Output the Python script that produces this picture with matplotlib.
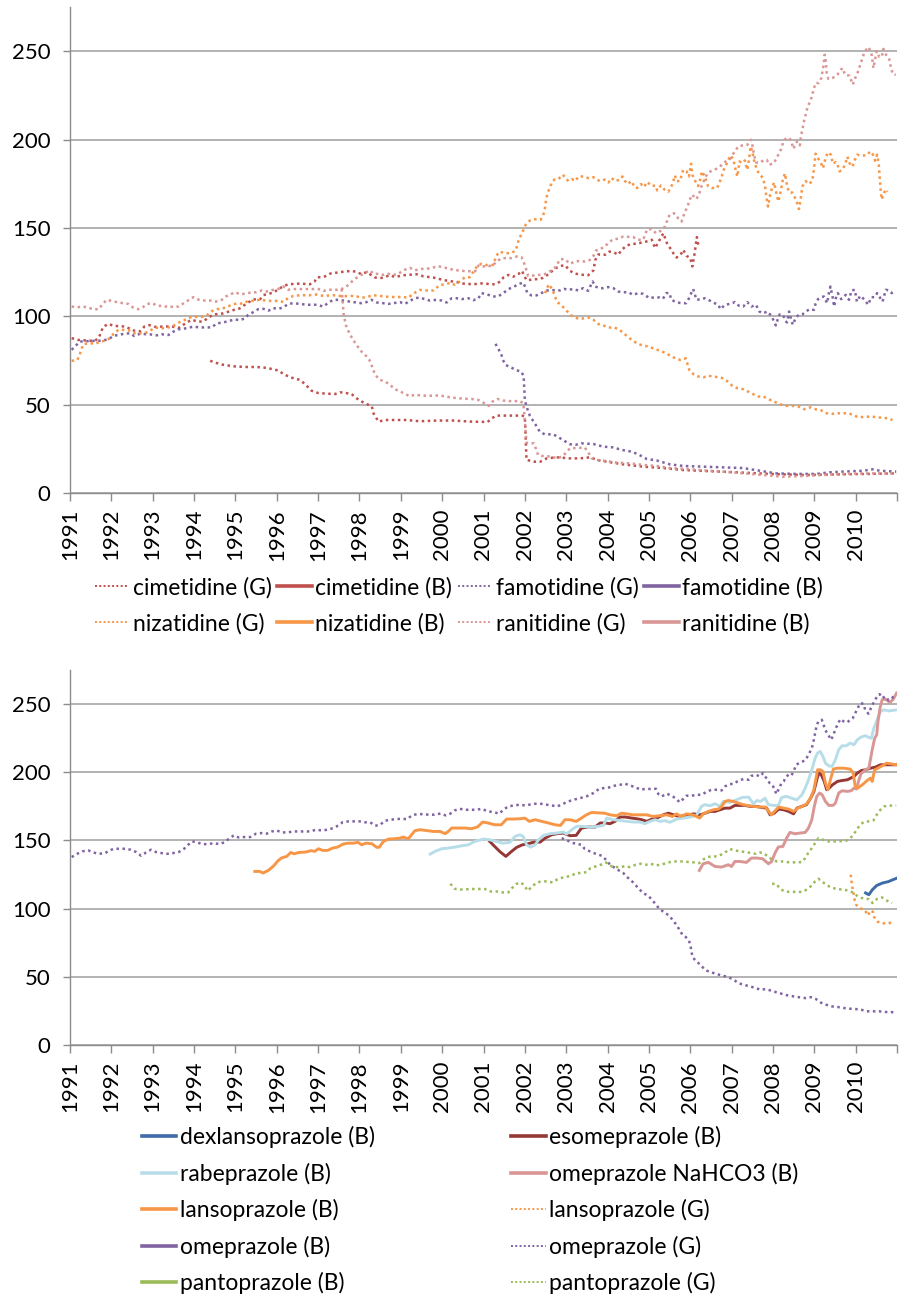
import numpy as np
import matplotlib
matplotlib.use("Agg")
import matplotlib.pyplot as plt
from matplotlib.lines import Line2D

plt.rcParams['font.family'] = ['Lato', 'DejaVu Sans']

years = list(range(1991, 2011))
y_ticks = [0, 50, 100, 150, 200, 250]

# ---- H2 blockers (top panel): (decimal year, index value) ----
cim_g = [(1994.39, 74.8), (1994.51, 73.8), (1994.67, 72.7), (1994.95, 71.7), (1995.23, 71.3), (1995.51, 71.3),
         (1995.76, 70.8), (1996.04, 69.3), (1996.16, 67.4), (1996.32, 65.5), (1996.56, 64), (1996.68, 61.7),
         (1996.84, 57.9), (1997.01, 56.5), (1997.3, 56.1), (1997.41, 56), (1997.53, 57), (1997.69, 56.5),
         (1997.81, 56), (1997.93, 53.6), (1998.05, 51.8), (1998.17, 50.4), (1998.3, 49), (1998.34, 45.1),
         (1998.46, 40.4), (1998.62, 41.3), (1998.82, 41.3), (1999.14, 41.3), (1999.46, 40.6), (1999.87, 41),
         (2000.27, 41), (2000.67, 40.4), (2001.1, 40.2), (2001.2, 42.3), (2001.32, 43.8), (2001.93, 43.8),
         (2002.0, 43.2), (2002.04, 18.7), (2002.24, 17.7), (2002.37, 17.7), (2002.53, 19.6), (2002.77, 20.2),
         (2003.09, 19.6), (2003.33, 19.6), (2003.58, 20.2), (2003.74, 18.7), (2004.06, 17.4), (2004.38, 16.2),
         (2004.86, 14.9), (2005.35, 14.1), (2005.83, 13), (2006.31, 12.5), (2007.12, 11.7), (2007.92, 10.8),
         (2008.73, 10.2), (2009.54, 10.5), (2010.34, 10.8), (2010.98, 11.1)]

cim_b = [(1991.04, 87.6), (1991.2, 86.6), (1991.6, 86), (1991.7, 88), (1991.8, 94), (1991.93, 95.7),
         (1992.05, 94.6), (1992.33, 94.2), (1992.57, 91.7), (1992.69, 91.4), (1992.8, 94.2), (1992.92, 95),
         (1993.06, 94), (1993.46, 94.3), (1993.62, 93.3), (1993.82, 96.4), (1993.94, 98), (1994.1, 97),
         (1994.22, 97), (1994.35, 99.3), (1994.47, 101), (1994.7, 101.6), (1994.99, 103.8), (1995.1, 104.4),
         (1995.31, 107.8), (1995.43, 109.5), (1995.6, 109.7), (1995.68, 112), (1995.92, 113.4), (1996.04, 115.3),
         (1996.16, 117), (1996.28, 118.1), (1996.56, 118.5), (1996.8, 118.1), (1996.92, 119.8), (1996.97, 121.9),
         (1997.17, 122.6), (1997.3, 124.2), (1997.57, 125.1), (1997.81, 125.7), (1997.93, 125.1), (1998.05, 123.8),
         (1998.17, 125), (1998.38, 121.9), (1998.54, 121.7), (1998.74, 123.2), (1998.86, 122.2), (1999.06, 123.2),
         (1999.38, 123.8), (1999.55, 122.6), (1999.79, 121.9), (2000.0, 120.7), (2000.15, 120), (2000.35, 119.4),
         (2000.51, 118.5), (2000.75, 118.1), (2001.0, 118.7), (2001.16, 118.1), (2001.28, 118.1), (2001.4, 119.6),
         (2001.48, 121.9), (2001.6, 123.4), (2001.72, 122.4), (2001.84, 123.8), (2001.93, 125.7), (2002.04, 120.4),
         (2002.28, 121), (2002.44, 121.7), (2002.57, 123.8), (2002.73, 127), (2002.85, 128.4), (2002.97, 128.9),
         (2003.09, 125.7), (2003.21, 124.2), (2003.33, 123.6), (2003.53, 123.2), (2003.66, 126), (2003.7, 131.7),
         (2003.78, 135), (2003.94, 134.8), (2004.04, 136.6), (2004.14, 136.3), (2004.26, 134.8), (2004.34, 137.6),
         (2004.46, 139.9), (2004.58, 141), (2004.7, 141), (2004.82, 141.7), (2004.94, 142.3), (2005.07, 143.3),
         (2005.15, 138.6), (2005.27, 143.7), (2005.35, 147), (2005.43, 141.7), (2005.59, 135.7), (2005.67, 133.2),
         (2005.79, 135.7), (2005.83, 137.6), (2005.91, 134.2), (2006.0, 133), (2006.05, 128.2), (2006.1, 134.8),
         (2006.16, 144.8), (2006.2, 139.5)]

fam_g = [(2001.29, 84.4), (2001.36, 81.5), (2001.43, 78.5), (2001.47, 75.3), (2001.53, 72.5), (2001.67, 71),
         (2001.79, 69.5), (2001.91, 68.7), (2001.97, 66.3), (2002.0, 52.7), (2002.04, 48.9), (2002.12, 43.8),
         (2002.2, 40.8), (2002.28, 37.9), (2002.36, 34.7), (2002.48, 33.2), (2002.69, 33.2), (2002.85, 31),
         (2002.97, 29.3), (2003.09, 27.6), (2003.23, 27.3), (2003.37, 28.1), (2003.66, 27.7), (2003.9, 26.2),
         (2004.14, 25.8), (2004.34, 24.4), (2004.58, 23.4), (2004.74, 21.9), (2004.94, 19.3), (2005.19, 18.4),
         (2005.51, 16.2), (2005.83, 15.3), (2006.31, 14.9), (2006.8, 14.5), (2007.28, 14.1), (2007.68, 12.6),
         (2008.08, 11.1), (2008.56, 10.8), (2009.05, 10.8), (2009.37, 11.7), (2009.69, 12.1), (2010.18, 12.6),
         (2010.42, 13.4), (2010.58, 12.6), (2010.98, 12.1)]

fam_b = [(1991.04, 81), (1991.14, 83.4), (1991.24, 85.7), (1991.5, 86), (1991.77, 86.2), (1991.93, 87),
         (1992.05, 88.9), (1992.29, 90), (1992.45, 90.4), (1992.55, 88.9), (1992.69, 90), (1992.93, 89.8),
         (1993.09, 89.2), (1993.22, 89.8), (1993.38, 89.4), (1993.5, 91.3), (1993.62, 92.6), (1993.78, 93.1),
         (1993.98, 94.1), (1994.14, 93.7), (1994.43, 93.7), (1994.55, 96), (1994.71, 96.5), (1994.83, 97.3),
         (1994.99, 98.2), (1995.11, 97.8), (1995.23, 98.8), (1995.31, 100.8), (1995.43, 102.3), (1995.55, 104),
         (1995.68, 104.2), (1995.8, 103.2), (1995.92, 104.6), (1996.04, 104.2), (1996.16, 105.1), (1996.28, 107),
         (1996.4, 107.4), (1996.56, 107), (1996.72, 106.5), (1996.97, 106.5), (1997.13, 105.5), (1997.25, 107.8),
         (1997.37, 109.3), (1997.49, 109.3), (1997.65, 108.7), (1997.77, 108.3), (1997.93, 107.8), (1998.05, 107.4),
         (1998.17, 108), (1998.29, 109.3), (1998.42, 107.8), (1998.58, 107.4), (1998.7, 107), (1998.82, 107.4),
         (1998.98, 108), (1999.1, 107), (1999.22, 108.7), (1999.34, 110.2), (1999.46, 110.6), (1999.58, 109.7),
         (1999.7, 108.9), (1999.87, 109.3), (1999.99, 108.9), (2000.11, 107.8), (2000.23, 110.2), (2000.35, 110.2),
         (2000.47, 109.7), (2000.63, 110.2), (2000.75, 109.1), (2000.87, 109.9), (2000.95, 113.1), (2001.07, 112.5),
         (2001.23, 111.2), (2001.35, 111.2), (2001.48, 113.1), (2001.6, 115.4), (2001.72, 116.5), (2001.84, 118.1),
         (2001.96, 119.1), (2002.02, 115.9), (2002.06, 113.1), (2002.16, 111.8), (2002.28, 111.8), (2002.4, 113.1),
         (2002.53, 114.6), (2002.65, 114.6), (2002.75, 115), (2002.85, 114.6), (2002.95, 115.5), (2003.05, 115),
         (2003.17, 115.4), (2003.29, 114.6), (2003.41, 115.9), (2003.53, 114.4), (2003.64, 119.7), (2003.7, 116.8),
         (2003.82, 115.9), (2003.9, 115.9), (2004.02, 116.5), (2004.14, 115.9), (2004.26, 114), (2004.38, 113.6),
         (2004.5, 113.6), (2004.62, 112.1), (2004.74, 113.1), (2004.86, 112.7), (2005.02, 110.2), (2005.14, 110.8),
         (2005.26, 110.6), (2005.34, 109.9), (2005.42, 113.1), (2005.5, 113.1), (2005.54, 109.3), (2005.66, 108),
         (2005.78, 107.4), (2005.9, 107.4), (2005.97, 110.2), (2006.03, 113.5), (2006.07, 115.4), (2006.11, 112.5),
         (2006.15, 109.3), (2006.27, 109.7), (2006.35, 110.2), (2006.47, 108.9), (2006.55, 107.8), (2006.68, 106.5),
         (2006.73, 104), (2006.84, 106.5), (2006.96, 107), (2007.08, 108), (2007.18, 105.9), (2007.28, 105.5),
         (2007.38, 108), (2007.48, 105.5), (2007.59, 106.5), (2007.67, 102.7), (2007.76, 101.7), (2007.87, 102.7),
         (2007.97, 99.9), (2008.02, 97.4), (2008.07, 94.8), (2008.12, 98.6), (2008.16, 101), (2008.24, 101),
         (2008.3, 97.4), (2008.34, 96.5), (2008.39, 102.7), (2008.44, 98.2), (2008.48, 95.2), (2008.55, 99),
         (2008.63, 101), (2008.71, 101), (2008.79, 102.7), (2008.89, 104), (2008.99, 103.6), (2009.03, 107),
         (2009.09, 109.7), (2009.17, 110.8), (2009.23, 111.2), (2009.31, 107.4), (2009.36, 114), (2009.39, 116.8),
         (2009.44, 111.2), (2009.48, 105.5), (2009.53, 111.2), (2009.57, 113.1), (2009.65, 109.7), (2009.76, 112.1),
         (2009.84, 109.3), (2009.9, 114.6), (2009.98, 115), (2010.03, 108.3), (2010.11, 111.6), (2010.22, 109.3),
         (2010.3, 106.5), (2010.38, 110.8), (2010.46, 110.8), (2010.52, 113.1), (2010.6, 110.2), (2010.65, 108.3),
         (2010.73, 115), (2010.81, 114.6), (2010.87, 113.1), (2010.95, 114.6)]

niz_g = [(2002.49, 113.1), (2002.53, 115.9), (2002.59, 118.1), (2002.65, 115.5), (2002.71, 112.7), (2002.77, 108.3),
         (2002.89, 106.1), (2003.01, 103.1), (2003.14, 100.2), (2003.3, 98.5), (2003.46, 98.9), (2003.54, 99.3),
         (2003.66, 98), (2003.78, 95.6), (2003.91, 94.7), (2004.03, 93.6), (2004.16, 93.7), (2004.29, 92.3),
         (2004.39, 90.4), (2004.5, 88.2), (2004.61, 86.2), (2004.73, 84.4), (2004.86, 83.4), (2005.01, 82.8),
         (2005.14, 81.5), (2005.28, 80.4), (2005.42, 79), (2005.53, 77.5), (2005.64, 76.2), (2005.76, 75.3),
         (2005.89, 76.2), (2005.94, 72.5), (2005.98, 69.5), (2006.08, 67.2), (2006.2, 65.9), (2006.32, 65.5),
         (2006.44, 66.3), (2006.56, 65.9), (2006.68, 65.5), (2006.8, 64.9), (2006.91, 63), (2007.02, 60.6),
         (2007.14, 59.3), (2007.27, 58.8), (2007.39, 57.5), (2007.51, 56.1), (2007.64, 54.6), (2007.77, 54.6),
         (2007.89, 53.1), (2008.02, 51.8), (2008.14, 50.5), (2008.3, 49.3), (2008.46, 49.3), (2008.62, 48.9),
         (2008.76, 47.4), (2008.91, 48.5), (2009.03, 47.4), (2009.17, 46.7), (2009.3, 45.1), (2009.44, 44.8),
         (2009.58, 45.1), (2009.84, 45.1), (2009.96, 43.8), (2010.08, 42.8), (2010.24, 43.2), (2010.4, 43.2),
         (2010.52, 42.8), (2010.64, 42.6), (2010.77, 42.3), (2010.89, 41.3)]

niz_b = [(1991.04, 74.8), (1991.18, 75.3), (1991.23, 78.1), (1991.28, 81.4), (1991.32, 84.2), (1991.48, 84.8),
         (1991.6, 84.4), (1991.72, 85.5), (1991.85, 86.2), (1991.97, 87.6), (1992.05, 90), (1992.17, 92.3),
         (1992.29, 92.3), (1992.45, 91.9), (1992.57, 90.4), (1992.81, 90.4), (1992.93, 91.7), (1993.06, 93.7),
         (1993.18, 93.1), (1993.34, 93.5), (1993.46, 94.1), (1993.58, 95.6), (1993.7, 97.5), (1993.82, 98.2),
         (1993.94, 99.7), (1994.18, 99.7), (1994.31, 100.6), (1994.43, 102.9), (1994.55, 104), (1994.69, 104.4),
         (1994.79, 105.3), (1994.94, 106.7), (1995.03, 107.2), (1995.19, 107.2), (1995.31, 108.7), (1995.47, 108.7),
         (1995.6, 109.5), (1995.76, 108.7), (1996.04, 108.7), (1996.16, 108.1), (1996.28, 110.4), (1996.4, 111.5),
         (1996.56, 111.9), (1996.8, 111.9), (1996.97, 112.3), (1997.13, 111.5), (1997.37, 111.9), (1997.61, 111.3),
         (1997.81, 111.5), (1997.93, 111.3), (1998.05, 110.4), (1998.17, 110.9), (1998.34, 111.9), (1998.5, 111.5),
         (1998.74, 110.9), (1999.06, 110.9), (1999.18, 110.4), (1999.3, 112.8), (1999.46, 114.9), (1999.62, 114.6),
         (1999.79, 114.6), (1999.95, 117.8), (2000.07, 118), (2000.19, 118.9), (2000.31, 117.8), (2000.43, 119.8),
         (2000.55, 122.1), (2000.67, 122.1), (2000.75, 125), (2000.85, 128.5), (2000.95, 129.7), (2001.07, 129),
         (2001.23, 129), (2001.31, 134.2), (2001.39, 136.6), (2001.51, 135.7), (2001.66, 135.7), (2001.78, 137.2),
         (2001.82, 140.4), (2001.85, 143.3), (2001.94, 147.4), (2002.01, 151.4), (2002.12, 154.2), (2002.24, 154.9),
         (2002.38, 154.6), (2002.44, 156.9), (2002.48, 160.3), (2002.52, 166.9), (2002.56, 170.3), (2002.63, 174.4),
         (2002.71, 177.3), (2002.81, 177.6), (2002.92, 180.1), (2003.0, 177.6), (2003.06, 176.5), (2003.14, 177.6),
         (2003.22, 176.5), (2003.3, 179.1), (2003.42, 179.1), (2003.54, 178.2), (2003.66, 178.7), (2003.74, 177.3),
         (2003.82, 176.5), (2003.93, 177.3), (2004.02, 175.7), (2004.1, 178.2), (2004.18, 176.5), (2004.3, 177.3),
         (2004.36, 179.1), (2004.42, 176.5), (2004.49, 174.8), (2004.58, 176.5), (2004.65, 173.1), (2004.72, 172.6),
         (2004.81, 174.8), (2004.88, 173.1), (2004.96, 176), (2005.07, 173.7), (2005.16, 174), (2005.2, 171.2),
         (2005.29, 174), (2005.37, 171.8), (2005.47, 170.5), (2005.51, 172.2), (2005.57, 174.8), (2005.63, 179.7),
         (2005.67, 176.5), (2005.75, 176.5), (2005.83, 182.9), (2005.91, 182), (2005.97, 179.1), (2006.02, 186.3),
         (2006.05, 180.1), (2006.12, 176.5), (2006.19, 173.7), (2006.24, 177.3), (2006.28, 182), (2006.35, 179.1),
         (2006.43, 173.7), (2006.52, 172.6), (2006.65, 172.6), (2006.75, 178.2), (2006.81, 182.9), (2006.89, 186.7),
         (2006.97, 191), (2007.04, 189), (2007.1, 182.5), (2007.14, 179.1), (2007.19, 187.6), (2007.26, 186.7),
         (2007.32, 188.2), (2007.38, 182.9), (2007.42, 188.5), (2007.46, 196.1), (2007.5, 193.3), (2007.54, 188.5),
         (2007.6, 183.6), (2007.66, 180.8), (2007.76, 178.2), (2007.81, 173.6), (2007.84, 167.8), (2007.88, 162.1),
         (2007.93, 168.7), (2007.99, 173.6), (2008.03, 175.7), (2008.07, 170.9), (2008.13, 165), (2008.19, 170.9),
         (2008.24, 177.3), (2008.29, 180.8), (2008.35, 172.8), (2008.4, 170), (2008.47, 170), (2008.53, 167.2),
         (2008.59, 163.7), (2008.63, 160.7), (2008.67, 166.3), (2008.71, 173.4), (2008.79, 176.5), (2008.87, 174.8),
         (2008.95, 176.5), (2008.99, 182.9), (2009.03, 192), (2009.1, 189), (2009.16, 186.7), (2009.21, 183.8),
         (2009.28, 190.3), (2009.34, 192.8), (2009.4, 191.4), (2009.45, 186.3), (2009.52, 187.3), (2009.58, 184.6),
         (2009.61, 182), (2009.68, 182.9), (2009.74, 185.7), (2009.8, 190.3), (2009.85, 186.7), (2009.92, 184.6),
         (2009.98, 188.5), (2010.04, 191.4), (2010.15, 191), (2010.26, 191), (2010.36, 193.3), (2010.42, 191.4),
         (2010.47, 188), (2010.52, 191.4), (2010.56, 185.7), (2010.58, 179.1), (2010.6, 172.6), (2010.63, 166.1),
         (2010.67, 169), (2010.73, 171.8), (2010.77, 170.5)]

ran_g = [(1997.57, 115.4), (1997.61, 103.6), (1997.62, 100.8), (1997.67, 95.1), (1997.73, 91.7), (1997.81, 88.2),
         (1997.89, 85.1), (1997.97, 82.5), (1998.05, 80), (1998.16, 77.6), (1998.24, 75.3), (1998.29, 72.5),
         (1998.35, 68.7), (1998.4, 66.3), (1998.5, 64), (1998.62, 63.1), (1998.74, 61.2), (1998.86, 58.7),
         (1998.98, 57.5), (1999.1, 56.1), (1999.22, 54.7), (1999.34, 55.6), (1999.5, 55.2), (1999.66, 55),
         (1999.91, 55.2), (2000.07, 54.7), (2000.19, 54.1), (2000.35, 53.7), (2000.51, 53.4), (2000.71, 53.2),
         (2000.87, 52.7), (2000.99, 51.2), (2001.13, 49.3), (2001.22, 51.8), (2001.34, 53.2), (2001.48, 52.3),
         (2001.74, 51.8), (2001.86, 52.3), (2001.96, 50.8), (2001.98, 47), (2002.04, 28.5), (2002.12, 28.1),
         (2002.22, 28.1), (2002.28, 24.3), (2002.32, 21.5), (2002.4, 21), (2002.65, 20.6), (2002.77, 19.6),
         (2002.89, 20.6), (2003.0, 22.8), (2003.09, 25.3), (2003.45, 25.7), (2003.53, 23.1), (2003.62, 19.6),
         (2003.74, 18.7), (2003.9, 18.3), (2004.22, 17.2), (2004.54, 16.8), (2004.86, 15.9), (2005.19, 15.3),
         (2005.51, 14.1), (2005.91, 13.6), (2006.31, 12.8), (2006.8, 12.1), (2007.28, 11.1), (2007.76, 10.2),
         (2008.24, 9.2), (2008.73, 9.6), (2009.21, 10.2), (2009.69, 10.8), (2010.18, 11.1), (2010.98, 11.1)]

ran_b = [(1991.04, 105.5), (1991.18, 105.1), (1991.32, 105.5), (1991.44, 104.9), (1991.56, 104), (1991.7, 104),
         (1991.79, 107), (1991.89, 109.3), (1992.01, 108.7), (1992.17, 107.8), (1992.29, 107.4), (1992.41, 107),
         (1992.53, 104.9), (1992.65, 104), (1992.76, 105.1), (1992.87, 107), (1992.99, 107.4), (1993.11, 105.9),
         (1993.26, 105.9), (1993.38, 105.1), (1993.5, 105.5), (1993.63, 105.5), (1993.75, 107.4), (1993.88, 109.3),
         (1993.98, 110.8), (1994.12, 109.3), (1994.26, 108.9), (1994.39, 108.9), (1994.53, 108.3), (1994.67, 109.3),
         (1994.77, 111.2), (1994.89, 112.5), (1994.99, 113.6), (1995.11, 112.5), (1995.23, 112.7), (1995.38, 113.5),
         (1995.51, 113.6), (1995.64, 114.6), (1995.76, 114), (1995.92, 115), (1996.04, 115.5), (1996.16, 116.9),
         (1996.28, 115), (1996.4, 115.4), (1997.01, 115.4), (1997.13, 114.4), (1997.25, 115), (1997.53, 115),
         (1997.67, 116.5), (1997.77, 118.7), (1997.89, 121.1), (1998.01, 123), (1998.13, 124.5), (1998.25, 126),
         (1998.34, 124), (1998.46, 124), (1998.58, 123.4), (1998.7, 124), (1998.82, 123.4), (1998.94, 124),
         (1999.06, 126), (1999.22, 127.4), (1999.34, 126), (1999.5, 126.8), (1999.62, 126.8), (1999.75, 127.4),
         (1999.91, 128.3), (2000.03, 127.7), (2000.19, 126.8), (2000.31, 126), (2000.43, 126), (2000.55, 125.5),
         (2000.8, 125.5), (2000.88, 128.7), (2000.96, 127.9), (2001.08, 128.7), (2001.2, 128.3), (2001.32, 131),
         (2001.44, 132.9), (2001.68, 132.9), (2001.8, 133.8), (2001.92, 133.4), (2002.0, 129), (2002.08, 122.9),
         (2002.16, 122.9), (2002.28, 123.4), (2002.4, 123.4), (2002.53, 124.2), (2002.65, 126.1), (2002.75, 128),
         (2002.85, 132.3), (2002.97, 132.3), (2003.09, 129.7), (2003.21, 131), (2003.33, 131.3), (2003.45, 131),
         (2003.57, 131.8), (2003.66, 134.2), (2003.72, 137.2), (2003.82, 138), (2003.94, 139.5), (2004.04, 142),
         (2004.15, 143.7), (2004.26, 143.8), (2004.38, 145.1), (2004.62, 144.8), (2004.74, 143.3), (2004.86, 143.3),
         (2004.96, 149.3), (2005.07, 149.3), (2005.17, 147), (2005.29, 148.4), (2005.39, 150.8), (2005.45, 154.6),
         (2005.5, 157.4), (2005.61, 158.3), (2005.71, 155.4), (2005.79, 153.6), (2005.86, 158.3), (2005.93, 162.1),
         (2005.98, 165), (2006.03, 168.7), (2006.09, 167.8), (2006.15, 166.3), (2006.22, 169.7), (2006.27, 173.5),
         (2006.34, 177.3), (2006.41, 180.6), (2006.49, 182), (2006.61, 183.2), (2006.71, 184.4), (2006.78, 186.3),
         (2006.86, 187.6), (2006.96, 189), (2007.04, 192), (2007.16, 196.1), (2007.27, 196.7), (2007.38, 197),
         (2007.47, 199.9), (2007.51, 196.1), (2007.54, 191.4), (2007.59, 187.1), (2007.67, 186.7), (2007.77, 188.2),
         (2007.85, 188.5), (2007.91, 185.7), (2008.02, 186.7), (2008.09, 189.5), (2008.15, 192.4), (2008.21, 195.2),
         (2008.25, 198.9), (2008.32, 200.8), (2008.4, 200.8), (2008.46, 198), (2008.48, 194.8), (2008.54, 196.5),
         (2008.58, 198.9), (2008.65, 196.7), (2008.68, 202.3), (2008.72, 206.5), (2008.74, 209.3), (2008.78, 213.1),
         (2008.84, 218.7), (2008.91, 222), (2008.95, 225.4), (2008.99, 228.6), (2009.03, 232), (2009.11, 232),
         (2009.17, 234.8), (2009.2, 238.6), (2009.22, 241.4), (2009.25, 248), (2009.28, 244.2), (2009.3, 237.7),
         (2009.34, 234.3), (2009.44, 234.8), (2009.56, 236.7), (2009.64, 239.5), (2009.69, 240.4), (2009.74, 236.7),
         (2009.85, 236.1), (2009.93, 231.1), (2009.99, 234.8), (2010.05, 238), (2010.13, 243.7), (2010.21, 249.3),
         (2010.3, 252.4), (2010.35, 250.5), (2010.39, 247.6), (2010.43, 240.4), (2010.47, 245.4), (2010.51, 250),
         (2010.57, 246.8), (2010.63, 246.8), (2010.67, 251.3), (2010.73, 248.1), (2010.81, 245.6), (2010.86, 240),
         (2010.91, 236.7), (2010.97, 236.7)]

# ---- proton pump inhibitors (bottom panel) ----
dex_b = [(2010.24, 111.5), (2010.32, 110.2), (2010.4, 113.7), (2010.51, 117), (2010.65, 118.8), (2010.79, 119.8),
         (2010.9, 121.2), (2011.0, 122.4)]

eso_b = [(2001.15, 149.3), (2001.27, 145.6), (2001.39, 142), (2001.54, 138.3), (2001.68, 142), (2001.8, 144.9),
         (2001.94, 146.8), (2002.08, 147.6), (2002.2, 148.6), (2002.37, 148.8), (2002.49, 151.7), (2002.65, 154.2),
         (2002.79, 155), (2002.93, 155.4), (2003.09, 153.5), (2003.24, 153.7), (2003.37, 159.1), (2003.53, 159.8),
         (2003.7, 159.8), (2003.82, 162.8), (2003.94, 162.8), (2004.06, 162.3), (2004.18, 164), (2004.3, 167.2),
         (2004.42, 167.2), (2004.59, 166.4), (2004.71, 165.9), (2004.83, 165.2), (2004.95, 164), (2005.07, 165.6),
         (2005.19, 166.4), (2005.35, 168.8), (2005.47, 170), (2005.6, 168.8), (2005.72, 167.6), (2005.84, 168.1),
         (2005.96, 168.8), (2006.08, 169.5), (2006.24, 168.8), (2006.36, 170), (2006.48, 171.3), (2006.6, 171.3),
         (2006.72, 172.5), (2006.84, 173.7), (2006.96, 173.7), (2007.08, 175.7), (2007.32, 175.7), (2007.45, 175),
         (2007.59, 175), (2007.73, 174.2), (2007.85, 173.7), (2007.93, 168.8), (2008.03, 170), (2008.14, 173),
         (2008.26, 172.5), (2008.38, 171.3), (2008.5, 169.5), (2008.58, 173.7), (2008.7, 175), (2008.81, 176.2),
         (2008.91, 181), (2008.99, 185.9), (2009.07, 195.7), (2009.11, 199.4), (2009.17, 198.1), (2009.24, 193.3),
         (2009.3, 187.2), (2009.36, 188.4), (2009.44, 190.8), (2009.56, 193.3), (2009.68, 194), (2009.8, 194.5),
         (2009.88, 195.7), (2009.96, 196.9), (2010.04, 199.4), (2010.14, 201.3), (2010.24, 201.8), (2010.36, 203),
         (2010.48, 203.8), (2010.6, 205.5), (2010.99, 205.5)]

rab_b = [(1999.71, 140), (1999.83, 142), (1999.99, 143.9), (2000.15, 144.4), (2000.31, 145.1), (2000.47, 146.1),
         (2000.63, 146.8), (2000.79, 149.3), (2001.0, 151), (2001.15, 150.5), (2001.31, 149.3), (2001.47, 148),
         (2001.64, 148.6), (2001.76, 152.9), (2001.88, 154.2), (2001.96, 152.9), (2002.04, 146.8), (2002.14, 145.1),
         (2002.25, 146.8), (2002.33, 150.5), (2002.45, 153.7), (2002.61, 155), (2002.77, 155.4), (2002.93, 156.2),
         (2003.01, 154.7), (2003.13, 157.8), (2003.25, 160.3), (2003.41, 160.3), (2003.57, 159.6), (2003.77, 160.3),
         (2003.9, 161), (2003.98, 166.4), (2004.14, 165.2), (2004.3, 164.7), (2004.46, 164), (2004.62, 163.5),
         (2004.78, 163.5), (2004.9, 162.3), (2005.03, 164), (2005.15, 165.2), (2005.27, 164), (2005.39, 164.5),
         (2005.51, 163.3), (2005.67, 165.7), (2005.83, 166.4), (2005.99, 167.2), (2006.15, 168.4), (2006.27, 175),
         (2006.35, 176.2), (2006.48, 175.5), (2006.6, 176.9), (2006.72, 175), (2006.8, 178.6), (2006.96, 177.9),
         (2007.12, 179.8), (2007.25, 181.5), (2007.41, 181.8), (2007.53, 176.9), (2007.61, 179.3), (2007.7, 178.6),
         (2007.81, 181), (2007.89, 176.2), (2008.01, 175.7), (2008.13, 175.5), (2008.21, 181.5), (2008.33, 182.3),
         (2008.45, 181), (2008.58, 179.8), (2008.7, 183.5), (2008.78, 188.4), (2008.86, 194.5), (2008.94, 201.8),
         (2009.02, 210.4), (2009.08, 214.1), (2009.14, 215.3), (2009.21, 211.6), (2009.27, 206.7), (2009.35, 204.7),
         (2009.43, 204.3), (2009.51, 209.2), (2009.59, 216.5), (2009.67, 219.4), (2009.77, 219.4), (2009.87, 221.4),
         (2009.96, 220.2), (2010.04, 223.8), (2010.13, 225.8), (2010.24, 226.8), (2010.32, 225.5), (2010.38, 225),
         (2010.44, 232.4), (2010.52, 238.5), (2010.6, 244.6), (2010.68, 245.8), (2010.8, 245), (2011.0, 245.8)]

omen_b = [(2006.22, 128), (2006.31, 132.9), (2006.44, 133.9), (2006.6, 130.9), (2006.76, 130.5), (2006.92, 132.2),
          (2007.0, 130.9), (2007.08, 134.6), (2007.2, 134.6), (2007.36, 133.9), (2007.48, 137.1), (2007.61, 137.1),
          (2007.75, 136.6), (2007.89, 132.9), (2007.97, 134.6), (2008.05, 140.8), (2008.13, 145.2), (2008.24, 145.6),
          (2008.33, 151.7), (2008.41, 155.9), (2008.53, 154.9), (2008.65, 155.4), (2008.78, 155.9), (2008.86, 159.1),
          (2008.94, 165.2), (2009.0, 175), (2009.06, 182.3), (2009.13, 184.8), (2009.19, 183.5), (2009.27, 178.6),
          (2009.35, 175.7), (2009.45, 175.7), (2009.51, 177.4), (2009.59, 184.8), (2009.67, 186.4), (2009.8, 186),
          (2009.89, 186.4), (2009.96, 188.4), (2010.02, 187.7), (2010.08, 194.5), (2010.13, 198.9), (2010.24, 201.8),
          (2010.32, 203), (2010.4, 216.5), (2010.46, 225), (2010.51, 227.5), (2010.54, 237.2), (2010.59, 247.1),
          (2010.64, 253.2), (2010.72, 253.6), (2010.83, 251.2), (2010.91, 253.6), (2010.99, 258.1)]

lans_b = [(1995.47, 127.3), (1995.59, 127.3), (1995.67, 126.1), (1995.81, 128.3), (1995.93, 131.5), (1996.03, 135.1),
          (1996.11, 137.1), (1996.24, 138.3), (1996.34, 141.2), (1996.42, 140.2), (1996.54, 141.2), (1996.7, 141.5),
          (1996.83, 142.5), (1996.92, 142), (1997.01, 143.9), (1997.11, 142.7), (1997.23, 142.7), (1997.35, 144.4),
          (1997.47, 145.1), (1997.6, 147.3), (1997.72, 148), (1997.84, 148), (1997.97, 148.6), (1998.05, 146.8),
          (1998.16, 148), (1998.3, 147.6), (1998.42, 144.9), (1998.48, 145.1), (1998.58, 149.3), (1998.7, 151),
          (1998.82, 151.2), (1998.98, 151.7), (1999.06, 152.5), (1999.18, 151.2), (1999.26, 154.2), (1999.34, 157.1),
          (1999.46, 157.9), (1999.62, 157.3), (1999.79, 156.6), (1999.95, 156.6), (2000.07, 155), (2000.15, 156.6),
          (2000.23, 159.1), (2000.55, 159.1), (2000.71, 158.6), (2000.86, 160), (2000.98, 163.5), (2001.11, 162.8),
          (2001.27, 161.5), (2001.43, 161.5), (2001.56, 165.7), (2001.72, 165.7), (2001.88, 165.9), (2002.0, 166.4),
          (2002.11, 164), (2002.25, 165.2), (2002.41, 164), (2002.57, 162.8), (2002.73, 161.5), (2002.86, 161),
          (2002.97, 165.2), (2003.09, 165.2), (2003.24, 164), (2003.37, 166.4), (2003.49, 168.8), (2003.61, 170.5),
          (2003.93, 170), (2004.06, 168.8), (2004.22, 168.1), (2004.34, 170), (2004.46, 169.5), (2004.62, 168.8),
          (2004.94, 168.8), (2005.1, 167.6), (2005.26, 168.1), (2005.43, 168.8), (2005.57, 167.6), (2005.67, 169.5),
          (2005.77, 167.6), (2005.91, 169.5), (2006.06, 168.8), (2006.15, 167.6), (2006.23, 166.4), (2006.31, 169.5),
          (2006.44, 171.3), (2006.56, 172.5), (2006.68, 173), (2006.76, 175), (2006.84, 178.6), (2006.92, 179.3),
          (2007.04, 178.6), (2007.16, 177.4), (2007.29, 176.2), (2007.41, 175.5), (2007.53, 175), (2007.68, 174.5),
          (2007.82, 174.5), (2007.9, 171.3), (2007.96, 168.8), (2008.04, 171.3), (2008.14, 174.5), (2008.26, 173.7),
          (2008.38, 173), (2008.5, 171.3), (2008.6, 173.7), (2008.71, 175), (2008.81, 176.7), (2008.91, 181),
          (2008.99, 187.2), (2009.05, 196.9), (2009.08, 201.8), (2009.15, 201.8), (2009.21, 200.6), (2009.27, 192.1),
          (2009.33, 187.2), (2009.39, 194.5), (2009.46, 202.3), (2009.55, 203), (2009.71, 203), (2009.87, 202.3),
          (2009.94, 199.4), (2009.99, 189.6), (2010.05, 188.4), (2010.16, 190.8), (2010.28, 194), (2010.36, 195.7),
          (2010.4, 193.3), (2010.46, 201.8), (2010.54, 203), (2010.64, 204.7), (2010.75, 206.7), (2010.85, 206.2),
          (2010.99, 205.5)]

lans_g = [(2009.88, 124.9), (2009.9, 120), (2009.92, 115.8), (2009.95, 111.4), (2009.97, 107.2), (2010.01, 102.9),
          (2010.11, 100.4), (2010.23, 98.7), (2010.29, 95), (2010.37, 98.7), (2010.42, 97.5), (2010.44, 94.3),
          (2010.52, 90.6), (2010.64, 89.2), (2010.77, 89.2), (2010.91, 90)]

ome_b = [(1991.04, 137.8), (1991.16, 140), (1991.3, 142), (1991.44, 142.7), (1991.56, 141.2), (1991.7, 140.2),
         (1991.85, 140.7), (1991.95, 142.7), (1992.07, 143.9), (1992.33, 143.9), (1992.47, 143.2), (1992.6, 141.5),
         (1992.72, 138.8), (1992.84, 141.2), (1992.96, 143.2), (1993.08, 141.5), (1993.22, 140.7), (1993.35, 140.2),
         (1993.49, 140.7), (1993.63, 141.5), (1993.75, 143.7), (1993.85, 146.6), (1993.95, 149.3), (1994.06, 148.8),
         (1994.19, 147.3), (1994.33, 147.3), (1994.48, 148), (1994.61, 147.3), (1994.73, 148.6), (1994.84, 151.2),
         (1994.96, 153.7), (1995.08, 152.2), (1995.22, 152.5), (1995.36, 152.5), (1995.5, 155), (1995.63, 155.4),
         (1995.76, 155), (1995.88, 156.6), (1996.0, 157.3), (1996.12, 155.9), (1996.26, 155.9), (1996.41, 156.6),
         (1996.81, 156.6), (1996.95, 157.9), (1997.09, 157.3), (1997.23, 157.9), (1997.37, 159.1), (1997.49, 161),
         (1997.6, 163.5), (1997.74, 164), (1998.0, 164), (1998.14, 163.3), (1998.26, 163.3), (1998.38, 160.8),
         (1998.5, 161.4), (1998.61, 164.4), (1998.75, 165.2), (1998.87, 165.6), (1999.01, 165.9), (1999.15, 165.6),
         (1999.27, 168.4), (1999.39, 169.3), (1999.54, 169.3), (1999.67, 168.9), (1999.81, 168.9), (1999.96, 169.7),
         (2000.08, 168.4), (2000.2, 169.7), (2000.3, 172), (2000.42, 173.2), (2000.57, 172.5), (2000.83, 172.5),
         (2000.95, 173.2), (2001.11, 171.3), (2001.25, 170.8), (2001.38, 169.6), (2001.48, 172.5), (2001.6, 175),
         (2001.74, 175.7), (2001.88, 176.2), (2002.0, 175.7), (2002.11, 176.2), (2002.25, 176.9), (2002.38, 176.9),
         (2002.53, 176.2), (2002.65, 175.7), (2002.79, 175), (2002.93, 176.9), (2003.05, 178.6), (2003.17, 179.8),
         (2003.33, 181), (2003.49, 182.3), (2003.66, 184.8), (2003.8, 187.9), (2003.91, 188.4), (2004.04, 188.9),
         (2004.16, 190.1), (2004.3, 190.8), (2004.42, 191.6), (2004.55, 190.3), (2004.68, 188.9), (2004.8, 187.2),
         (2004.93, 187.9), (2005.06, 187.7), (2005.17, 187.9), (2005.23, 184), (2005.31, 182.3), (2005.43, 184.3),
         (2005.55, 182.8), (2005.67, 180.4), (2005.74, 178), (2005.83, 180.4), (2005.91, 182.8), (2006.03, 182.8),
         (2006.16, 183.5), (2006.28, 183.5), (2006.4, 185.9), (2006.52, 187.2), (2006.66, 187.2), (2006.76, 186.7),
         (2006.84, 189.6), (2006.95, 191.3), (2007.06, 191.6), (2007.17, 194), (2007.29, 195), (2007.41, 194.5),
         (2007.48, 197.4), (2007.6, 198.1), (2007.68, 196.9), (2007.76, 199.3), (2007.84, 195.7), (2007.92, 192.1),
         (2007.98, 190.8), (2008.04, 187.7), (2008.08, 184), (2008.14, 187.7), (2008.2, 191.6), (2008.26, 193.3),
         (2008.32, 196.9), (2008.38, 198.1), (2008.44, 197.4), (2008.5, 200.6), (2008.56, 205.5), (2008.66, 207.2),
         (2008.78, 208.7), (2008.86, 212.8), (2008.94, 217.7), (2008.98, 222.6), (2009.02, 228.7), (2009.06, 234.8),
         (2009.1, 237.2), (2009.18, 238.5), (2009.22, 235.5), (2009.26, 231.1), (2009.34, 227.5), (2009.4, 223.8),
         (2009.45, 226.3), (2009.51, 231.6), (2009.56, 234.8), (2009.63, 239), (2009.71, 237.3), (2009.79, 236.5),
         (2009.87, 238.5), (2009.93, 239.7), (2009.99, 243.4), (2010.05, 247.1), (2010.11, 250.7), (2010.19, 250.2),
         (2010.23, 245.8), (2010.31, 242.9), (2010.37, 247.1), (2010.45, 252), (2010.53, 256.1), (2010.58, 257.3),
         (2010.64, 254.4), (2010.72, 255.6), (2010.8, 252.7), (2010.88, 254.4), (2010.96, 257.3)]

ome_g = [(2002.89, 151.7), (2003.17, 148.1), (2003.37, 146.8), (2003.45, 143.7), (2003.66, 140.8), (2003.86, 138.8),
         (2003.96, 135.9), (2004.06, 132.2), (2004.22, 129), (2004.38, 126.1), (2004.5, 122.4), (2004.62, 119.2),
         (2004.74, 115.1), (2004.86, 111.4), (2004.98, 109.5), (2005.06, 107), (2005.16, 103.4), (2005.25, 99.9),
         (2005.36, 97.5), (2005.48, 95.1), (2005.57, 91.9), (2005.65, 88.7), (2005.73, 85), (2005.81, 80.9),
         (2005.89, 79.2), (2005.97, 76.5), (2006.01, 72.3), (2006.03, 67.9), (2006.07, 63.8), (2006.17, 60.9),
         (2006.28, 57.6), (2006.38, 54.7), (2006.52, 53.2), (2006.64, 52), (2006.79, 50.8), (2006.92, 49.8),
         (2007.05, 47.9), (2007.16, 45.4), (2007.29, 44.2), (2007.44, 43), (2007.58, 41.8), (2007.7, 40.5),
         (2007.82, 41), (2007.94, 40), (2008.09, 38.6), (2008.23, 37.4), (2008.35, 36.4), (2008.51, 35.6),
         (2008.66, 34.9), (2008.78, 34.4), (2008.92, 35.1), (2009.04, 33.7), (2009.15, 31.2), (2009.29, 29.5),
         (2009.43, 28.3), (2009.58, 27.8), (2009.72, 27.1), (2009.86, 26.6), (2009.99, 26.4), (2010.13, 25.9),
         (2010.27, 24.7), (2010.57, 24.7), (2010.71, 24.2), (2010.86, 24.2), (2010.98, 23.5)]

pan_b = [(2000.2, 118.2), (2000.3, 114.6), (2000.44, 114), (2000.75, 114.4), (2001.03, 114.4), (2001.17, 112.6),
         (2001.32, 112.6), (2001.45, 111.9), (2001.6, 111.9), (2001.69, 115.1), (2001.8, 118.2), (2001.9, 119.2),
         (2002.0, 116.7), (2002.06, 113.1), (2002.16, 115.6), (2002.27, 118.8), (2002.39, 120), (2002.53, 120),
         (2002.67, 119.2), (2002.77, 121.2), (2002.86, 122.4), (2002.98, 123.1), (2003.11, 124.1), (2003.25, 126.1),
         (2003.37, 126.1), (2003.49, 126.8), (2003.59, 129.8), (2003.72, 131), (2003.84, 132.2), (2003.96, 133.9),
         (2004.06, 131.5), (2004.18, 130.5), (2004.3, 130.5), (2004.42, 131), (2004.54, 130.5), (2004.68, 132.2),
         (2004.8, 132.9), (2004.93, 132.2), (2005.05, 132.9), (2005.16, 131.7), (2005.28, 132.2), (2005.43, 133.4),
         (2005.56, 134.6), (2005.84, 134.6), (2005.99, 134.1), (2006.11, 133.9), (2006.22, 133.4), (2006.31, 135.9),
         (2006.41, 137.8), (2006.52, 138.3), (2006.64, 138.3), (2006.74, 139.5), (2006.84, 141.2), (2006.96, 143.7),
         (2007.08, 142.7), (2007.2, 142), (2007.35, 141.5), (2007.47, 140.7), (2007.59, 140.2), (2007.69, 141.2),
         (2007.77, 140.7), (2007.88, 138.3), (2007.98, 135.9), (2008.1, 134.6), (2008.22, 134.6), (2008.34, 134.1),
         (2008.46, 133.9), (2008.7, 134.1), (2008.78, 137.1), (2008.86, 141.2), (2008.94, 144.4), (2009.02, 148.1),
         (2009.1, 151.7), (2009.18, 151), (2009.29, 149.3), (2009.53, 149.3), (2009.77, 149.8), (2009.87, 151.7),
         (2009.95, 154.2), (2010.02, 157.8), (2010.1, 161), (2010.19, 163.5), (2010.31, 164), (2010.43, 164.7),
         (2010.51, 168.8), (2010.6, 172.5), (2010.69, 175), (2010.82, 175.5), (2010.98, 175.7)]

pan_g = [(2007.98, 118.2), (2008.08, 118.2), (2008.18, 114.3), (2008.3, 112.4), (2008.58, 112.3), (2008.7, 112.2),
         (2008.82, 114), (2008.94, 117), (2009.02, 120), (2009.1, 121.9), (2009.18, 120), (2009.29, 117.5),
         (2009.4, 115.6), (2009.55, 114.3), (2009.69, 114), (2009.83, 113.2), (2009.96, 111.5), (2010.05, 108.9),
         (2010.2, 107.2), (2010.32, 107), (2010.41, 104.1), (2010.52, 107.2), (2010.64, 108.2), (2010.76, 105.8),
         (2010.88, 104.1)]

RED, PURPLE, ORANGE, PINK = '#C0504D', '#8064A2', '#F79646', '#D99694'
BLUE, DARKRED, LIGHTBLUE, GREEN = '#3F6CA8', '#953735', '#B7DEE8', '#9BBB59'
GRID = '#A6A6A6'
AXIS = '#8C8C8C'
DOT = (0, (1, 1.4))

# (label, data, colour, dotted in plot, dotted in legend)
h2_series = [
    ('cimetidine (G)', cim_g, RED, True, True),
    ('cimetidine (B)', cim_b, RED, True, False),
    ('famotidine (G)', fam_g, PURPLE, True, True),
    ('famotidine (B)', fam_b, PURPLE, True, False),
    ('nizatidine (G)', niz_g, ORANGE, True, True),
    ('nizatidine (B)', niz_b, ORANGE, True, False),
    ('ranitidine (G)', ran_g, PINK, True, True),
    ('ranitidine (B)', ran_b, PINK, True, False),
]
ppi_series = [
    ('dexlansoprazole (B)', dex_b, BLUE, False, False),
    ('esomeprazole (B)', eso_b, DARKRED, False, False),
    ('rabeprazole (B)', rab_b, LIGHTBLUE, False, False),
    ('omeprazole NaHCO3 (B)', omen_b, PINK, False, False),
    ('lansoprazole (B)', lans_b, ORANGE, False, False),
    ('lansoprazole (G)', lans_g, ORANGE, True, True),
    ('omeprazole (B)', ome_b, PURPLE, True, False),
    ('omeprazole (G)', ome_g, PURPLE, True, True),
    ('pantoprazole (B)', pan_b, GREEN, True, False),
    ('pantoprazole (G)', pan_g, GREEN, True, True),
]


def draw_series(ax, series):
    handles = []
    for label, pts, color, dotted, leg_dotted in series:
        arr = np.array(pts)
        if dotted:
            ax.plot(arr[:, 0], arr[:, 1], color=color, lw=1.8, ls=DOT)
        else:
            ax.plot(arr[:, 0], arr[:, 1], color=color, lw=2.1, solid_joinstyle='round')
        if leg_dotted:
            handles.append(Line2D([], [], color=color, lw=1.4, ls=(0, (1, 1.2)), label=label))
        else:
            handles.append(Line2D([], [], color=color, lw=2.6, label=label))
    return handles


def style_axes(ax):
    ax.set_xlim(1991, 2011)
    ax.set_ylim(0, 275)
    ax.set_yticks(y_ticks)
    ax.set_xticks(range(1991, 2012))
    ax.set_xticklabels([str(y) for y in years] + [''], rotation=90)
    ax.grid(axis='y', color=GRID, lw=1.2)
    ax.set_axisbelow(True)
    for s in ['top', 'right']:
        ax.spines[s].set_visible(False)
    for s in ['left', 'bottom']:
        ax.spines[s].set_color(AXIS)
        ax.spines[s].set_linewidth(1.0)
    ax.tick_params(axis='x', length=5.5, width=1, color=AXIS, pad=6, labelsize=16)
    ax.tick_params(axis='y', length=5, width=1, color=AXIS, pad=9, labelsize=16)


fig = plt.figure(figsize=(8.99, 13), dpi=100)
ax1 = fig.add_axes([70 / 899, 1 - 493 / 1300, 827 / 899, 486 / 1300])
ax2 = fig.add_axes([70 / 899, 1 - 1045 / 1300, 827 / 899, 375 / 1300])

h_top = draw_series(ax1, h2_series)
h_bot = draw_series(ax2, ppi_series)
style_axes(ax1)
style_axes(ax2)

# legend entries are listed row by row; matplotlib fills column by column
top_order = [0, 4, 1, 5, 2, 6, 3, 7]
fig.legend(handles=[h_top[i] for i in top_order], loc='upper left',
           bbox_to_anchor=(95 / 899, 1 - 577 / 1300), ncol=4, frameon=False,
           fontsize=16.5, handlelength=1.5, handletextpad=0.15, columnspacing=0.25,
           labelspacing=0.63, borderpad=0, borderaxespad=0)
bot_order = [0, 2, 4, 6, 8, 1, 3, 5, 7, 9]
fig.legend(handles=[h_bot[i] for i in bot_order], loc='upper left',
           bbox_to_anchor=(142 / 899, 1 - 1126 / 1300), ncol=2, frameon=False,
           fontsize=16.5, handlelength=1.5, handletextpad=0.15, columnspacing=5.95,
           labelspacing=0.63, borderpad=0, borderaxespad=0)

fig.savefig('out.png', dpi=100)
